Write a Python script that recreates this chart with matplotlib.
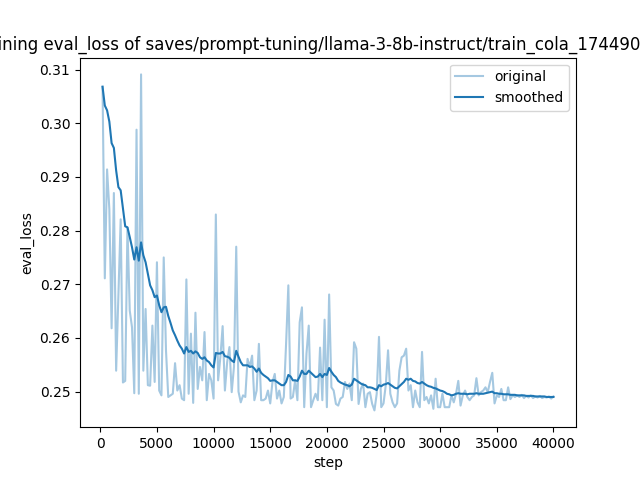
import numpy as np
import matplotlib
matplotlib.use("Agg")
import matplotlib.pyplot as plt

# eval every 200 steps
steps = np.arange(200, 40001, 200)

# eval_loss
original = [
    0.3068, 0.2711, 0.2914, 0.2840, 0.2618, 0.2870, 0.2539, 0.2680, 0.2821, 0.2517,
    0.2520, 0.2806, 0.2651, 0.2620, 0.2497, 0.2988, 0.2496, 0.3091, 0.2539, 0.2654,
    0.2512, 0.2511, 0.2623, 0.2518, 0.2741, 0.2502, 0.2493, 0.2750, 0.2577, 0.2490,
    0.2493, 0.2496, 0.2553, 0.2502, 0.2512, 0.2487, 0.2484, 0.2709, 0.2496, 0.2608,
    0.2479, 0.2647, 0.2505, 0.2546, 0.2521, 0.2611, 0.2484, 0.2533, 0.2521, 0.2487,
    0.2830, 0.2521, 0.2564, 0.2622, 0.2502, 0.2555, 0.2583, 0.2499, 0.2546, 0.2770,
    0.2500, 0.2480, 0.2493, 0.2490, 0.2561, 0.2546, 0.2567, 0.2484, 0.2502, 0.2589,
    0.2484, 0.2484, 0.2487, 0.2502, 0.2478, 0.2518, 0.2533, 0.2487, 0.2502, 0.2478,
    0.2490, 0.2589, 0.2698, 0.2487, 0.2490, 0.2521, 0.2484, 0.2629, 0.2657, 0.2471,
    0.2571, 0.2623, 0.2471, 0.2484, 0.2496, 0.2484, 0.2582, 0.2484, 0.2634, 0.2471,
    0.2681, 0.2508, 0.2502, 0.2477, 0.2474, 0.2487, 0.2490, 0.2518, 0.2505, 0.2515,
    0.2484, 0.2592, 0.2580, 0.2477, 0.2505, 0.2515, 0.2471, 0.2496, 0.2499, 0.2477,
    0.2465, 0.2496, 0.2602, 0.2471, 0.2478, 0.2512, 0.2577, 0.2496, 0.2480, 0.2471,
    0.2478, 0.2539, 0.2564, 0.2567, 0.2580, 0.2502, 0.2512, 0.2471, 0.2502, 0.2480,
    0.2471, 0.2574, 0.2484, 0.2490, 0.2478, 0.2493, 0.2468, 0.2524, 0.2471, 0.2471,
    0.2496, 0.2471, 0.2471, 0.2471, 0.2493, 0.2480, 0.2496, 0.2520, 0.2474, 0.2493,
    0.2502, 0.2490, 0.2484, 0.2490, 0.2493, 0.2525, 0.2493, 0.2499, 0.2502, 0.2508,
    0.2499, 0.2518, 0.2535, 0.2478, 0.2493, 0.2490, 0.2505, 0.2484, 0.2484, 0.2508,
    0.2486, 0.2493, 0.2490, 0.2493, 0.2490, 0.2494, 0.2488, 0.2492, 0.2489, 0.2493,
    0.2488, 0.2491, 0.2489, 0.2492, 0.2488, 0.2490, 0.2489, 0.2491, 0.2487, 0.2491,
]

smoothed = [
    0.3068, 0.3033, 0.3024, 0.3003, 0.2963, 0.2954, 0.2912, 0.2881, 0.2875, 0.2841,
    0.2808, 0.2806, 0.2788, 0.2769, 0.2746, 0.2769, 0.2744, 0.2778, 0.2754, 0.2741,
    0.2720, 0.2698, 0.2689, 0.2676, 0.2679, 0.2661, 0.2648, 0.2657, 0.2658, 0.2641,
    0.2628, 0.2614, 0.2605, 0.2595, 0.2586, 0.2580, 0.2571, 0.2583, 0.2574, 0.2576,
    0.2571, 0.2575, 0.2572, 0.2564, 0.2561, 0.2564, 0.2558, 0.2555, 0.2549, 0.2545,
    0.2572, 0.2571, 0.2571, 0.2574, 0.2566, 0.2565, 0.2563, 0.2558, 0.2555, 0.2576,
    0.2565, 0.2555, 0.2549, 0.2549, 0.2549, 0.2546, 0.2547, 0.2543, 0.2537, 0.2543,
    0.2535, 0.2531, 0.2528, 0.2525, 0.2520, 0.2521, 0.2521, 0.2518, 0.2515, 0.2512,
    0.2512, 0.2518, 0.2531, 0.2528, 0.2521, 0.2521, 0.2520, 0.2528, 0.2539, 0.2533,
    0.2533, 0.2539, 0.2535, 0.2531, 0.2527, 0.2528, 0.2533, 0.2527, 0.2533, 0.2531,
    0.2544, 0.2537, 0.2531, 0.2527, 0.2520, 0.2517, 0.2515, 0.2513, 0.2512, 0.2510,
    0.2513, 0.2524, 0.2521, 0.2518, 0.2515, 0.2513, 0.2512, 0.2508, 0.2508, 0.2507,
    0.2505, 0.2503, 0.2512, 0.2510, 0.2513, 0.2514, 0.2516, 0.2513, 0.2510, 0.2507,
    0.2506, 0.2510, 0.2514, 0.2518, 0.2524, 0.2522, 0.2524, 0.2520, 0.2519, 0.2516,
    0.2515, 0.2518, 0.2515, 0.2512, 0.2510, 0.2509, 0.2507, 0.2506, 0.2504, 0.2502,
    0.2501, 0.2499, 0.2496, 0.2495, 0.2493, 0.2494, 0.2496, 0.2497, 0.2496, 0.2496,
    0.2496, 0.2495, 0.2496, 0.2496, 0.2496, 0.2497, 0.2496, 0.2496, 0.2496, 0.2497,
    0.2498, 0.2499, 0.2500, 0.2497, 0.2497, 0.2496, 0.2496, 0.2495, 0.2495, 0.2495,
    0.2494, 0.2494, 0.2494, 0.2493, 0.2493, 0.2493, 0.2493, 0.2492, 0.2492, 0.2492,
    0.2492, 0.2491, 0.2491, 0.2491, 0.2491, 0.2491, 0.2490, 0.2490, 0.2490, 0.2490,
]

title = "training eval_loss of saves/prompt-tuning/llama-3-8b-instruct/train_cola_1744902584"

plt.figure(figsize=(6.4, 4.8), dpi=100)
plt.plot(steps, original, color="#1f77b4", alpha=0.4, label="original")
plt.plot(steps, smoothed, color="#1f77b4", label="smoothed")
plt.legend()
plt.title(title)
plt.xlabel("step")
plt.ylabel("eval_loss")
plt.savefig("out.png", dpi=100)
